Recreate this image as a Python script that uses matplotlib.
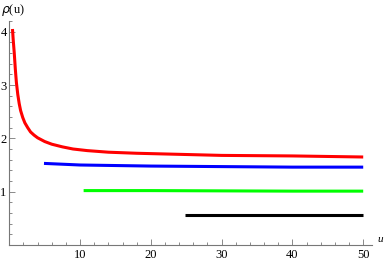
import matplotlib
matplotlib.use("Agg")
import matplotlib.pyplot as plt
from matplotlib.ticker import MultipleLocator, FixedLocator

# curves
u_red = [0.45, 0.55, 0.7, 0.85, 1.0, 1.2, 1.4, 1.6, 1.9, 2.2, 2.6, 3.0, 3.5, 4.0,
         5.0, 6.0, 7.5, 9.0, 11, 14, 18, 24, 30, 40, 50]
rho_red = [4.05, 3.85, 3.60, 3.30, 3.05, 2.82, 2.65, 2.52, 2.39, 2.29, 2.20, 2.12,
           2.06, 2.01, 1.94, 1.89, 1.84, 1.80, 1.77, 1.74, 1.72, 1.70, 1.68, 1.67, 1.65]

u_blue = [4.9, 10, 20, 30, 40, 50]
rho_blue = [1.53, 1.50, 1.48, 1.47, 1.46, 1.46]

u_green = [10.5, 20, 30, 40, 50]
rho_green = [1.02, 1.02, 1.015, 1.01, 1.01]

u_black = [24.8, 50]
rho_black = [0.56, 0.56]

x_ticks = [10, 20, 30, 40, 50]
y_ticks = [1, 2, 3, 4]

plt.rcParams['font.family'] = ['Liberation Serif', 'DejaVu Serif']

fig = plt.figure(figsize=(3.88, 2.62), dpi=100)
ax = fig.add_axes([9.3 / 388, 17 / 262, 362.4 / 388, 224 / 262])

lw = 2.2
ax.plot(u_red, rho_red, color=(1, 0, 0), lw=lw, solid_capstyle='butt')
ax.plot(u_blue, rho_blue, color=(0, 0, 1), lw=lw, solid_capstyle='butt')
ax.plot(u_green, rho_green, color=(0, 1, 0), lw=lw, solid_capstyle='butt')
ax.plot(u_black, rho_black, color='black', lw=lw, solid_capstyle='butt')

ax.set_xlim(0, 51.2)
ax.set_ylim(0, 4.2)

for s in ['top', 'right']:
    ax.spines[s].set_visible(False)
for s in ['left', 'bottom']:
    ax.spines[s].set_color('#777777')
    ax.spines[s].set_linewidth(0.8)

ax.xaxis.set_major_locator(FixedLocator(x_ticks))
ax.yaxis.set_major_locator(FixedLocator(y_ticks))
ax.xaxis.set_minor_locator(MultipleLocator(2))
ax.yaxis.set_minor_locator(MultipleLocator(0.2))
ax.tick_params(which='both', direction='in', color='#777777', width=0.6,
               labelsize=9, pad=3)
ax.tick_params(which='major', length=4)
ax.tick_params(which='minor', length=2.5)
ax.tick_params(axis='y', pad=2)

fig.text(380 / 388, 1 - 240 / 262, 'u', style='italic', fontsize=8,
         ha='center', va='center')
fig.text(1 / 388, 1 - 10 / 262, r'$\rho$(u)', fontsize=9, ha='left', va='center')

fig.savefig('out.png', dpi=100)
